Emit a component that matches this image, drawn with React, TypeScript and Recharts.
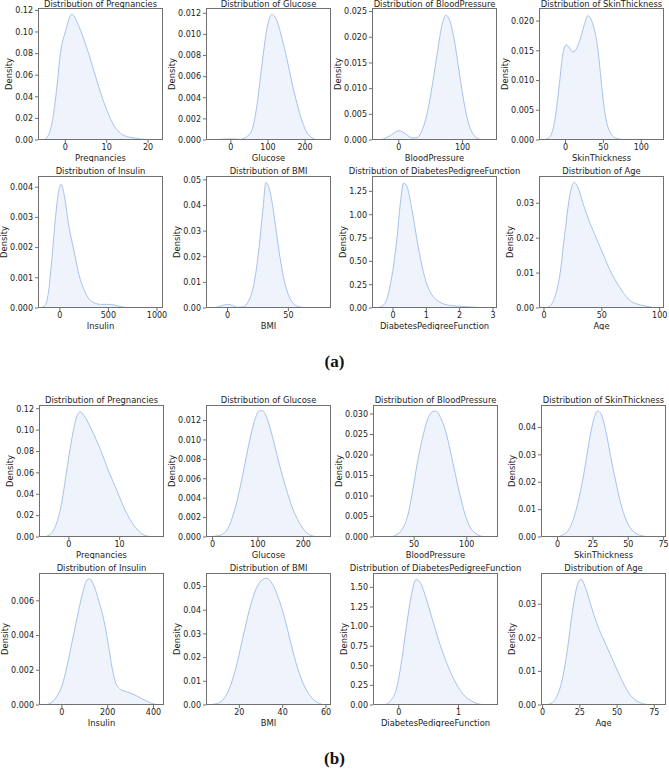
import { AreaChart, Area, XAxis, YAxis } from 'recharts';

const FONT = '"DejaVu Sans", sans-serif';
const LINE = '#a6c2ee';
const FRAME = '#707070';
const INK = '#222';

// ---- panel (a): raw data, estimated KDE curves [x, density]
const pregnanciesA = [[-5.3, 0], [-4, 0.005], [-3.2, 0.016], [-2, 0.05], [-1.2, 0.08], [0, 0.1], [1.6, 0.1165], [3.3, 0.105], [5.3, 0.084], [6.9, 0.064], [8.5, 0.044], [10.2, 0.026], [11.8, 0.013], [13.4, 0.006], [15, 0.003], [16.7, 0.0018], [18.5, 0.0008], [20, 0.0004], [21.5, 0]];
const glucoseA = [[-47, 0], [-30, 0.00005], [-12, 0.0001], [6, 0.0001], [24, 0.00006], [42, 0.0003], [56, 0.00085], [70, 0.0032], [83.5, 0.007], [97, 0.0105], [110.5, 0.0119], [124, 0.0113], [138, 0.0096], [151, 0.0077], [165, 0.0054], [178, 0.0035], [192, 0.0018], [205, 0.0007], [219, 0.0002], [232, 0]];
const bloodPressureA = [[-34, 0], [-24, 0.0002], [-13, 0.0009], [0, 0.0018], [10.5, 0.0012], [21, 0.0004], [29, 0.0005], [37, 0.002], [45, 0.0055], [53, 0.011], [60.5, 0.017], [68, 0.0225], [74, 0.0243], [79, 0.0235], [87, 0.0195], [95, 0.013], [103, 0.0068], [110.5, 0.0028], [118, 0.0009], [129, 0.0001], [139.5, 0]];
const skinThicknessA = [[-30, 0], [-21, 0.0005], [-14.5, 0.003], [-8, 0.0095], [-3.5, 0.0145], [1, 0.016], [5, 0.0155], [10, 0.0148], [15, 0.0155], [20, 0.0172], [25, 0.0195], [29.5, 0.0209], [36, 0.0195], [43, 0.015], [47, 0.01], [51.5, 0.005], [58, 0.0015], [67, 0.0003], [76, 0.0001], [98, 0.0001], [111, 0.0001], [124, 0]];
const insulinA = [[-200, 0], [-149, 0.0001], [-114, 0.0006], [-80, 0.0017], [-45, 0.003], [-10, 0.0039], [14, 0.0041], [41, 0.0038], [93, 0.0027], [145, 0.0019], [197, 0.0011], [250, 0.0006], [300, 0.0003], [350, 0.00018], [420, 0.00012], [500, 0.00012], [560, 0.0001], [620, 0.00005], [700, 0.00001], [760, 0]];
const bmiA = [[-15, 0], [-9, 0.0003], [-4, 0.001], [0, 0.0014], [4, 0.001], [8, 0.0003], [13, 0.0005], [17, 0.0025], [20, 0.006], [23, 0.013], [26, 0.024], [29, 0.038], [31.5, 0.049], [34, 0.047], [37, 0.04], [40, 0.03], [43, 0.02], [46, 0.012], [49, 0.0065], [52, 0.003], [56, 0.001], [62, 0.0002], [70, 0]];
const pedigreeA = [[-0.53, 0], [-0.33, 0.02], [-0.18, 0.1], [-0.03, 0.35], [0.12, 0.75], [0.22, 1.12], [0.32, 1.34], [0.42, 1.3], [0.57, 1.05], [0.72, 0.73], [0.87, 0.45], [1.02, 0.25], [1.17, 0.14], [1.37, 0.07], [1.67, 0.03], [1.97, 0.02], [2.27, 0.012], [2.57, 0.006], [2.87, 0.002], [3.07, 0]];
const ageA = [[0.6, 0], [4.9, 0.0005], [9.2, 0.003], [13.5, 0.009], [17.9, 0.021], [22.2, 0.032], [26, 0.036], [29.4, 0.0345], [33.7, 0.03], [39.5, 0.0245], [45.2, 0.02], [51, 0.0155], [56.8, 0.011], [62.5, 0.0075], [68.3, 0.0045], [74, 0.0022], [80, 0.0012], [85.6, 0.0007], [91.4, 0.0003], [97, 0]];

// ---- panel (b): cleaned data
const pregnanciesB = [[-5.1, 0], [-3.8, 0.002], [-2.5, 0.012], [-1.5, 0.03], [-0.5, 0.06], [0.5, 0.09], [1.5, 0.112], [2.2, 0.117], [3.2, 0.112], [4.5, 0.1], [6.2, 0.082], [7.8, 0.062], [9.5, 0.043], [11.1, 0.025], [12.8, 0.011], [14.1, 0.004], [15.8, 0.0005], [16.8, 0]];
const glucoseB = [[-15, 0], [7, 0.0001], [22, 0.0003], [37, 0.0012], [51, 0.0032], [66, 0.0063], [81, 0.0098], [92, 0.0119], [103, 0.013], [110, 0.013], [121, 0.0121], [132, 0.0103], [147, 0.0075], [162, 0.005], [176, 0.003], [191, 0.0015], [206, 0.0005], [221, 0.0001], [235, 0]];
const bloodPressureB = [[26.6, 0], [32.8, 0.0005], [39, 0.002], [43.7, 0.005], [48.4, 0.011], [53, 0.018], [57.8, 0.024], [62.5, 0.0285], [67, 0.0305], [70.3, 0.0307], [75, 0.0292], [79.7, 0.026], [84.4, 0.021], [89, 0.0155], [93.8, 0.01], [98.4, 0.0055], [103, 0.0025], [107.8, 0.001], [114, 0.0002], [120, 0]];
const skinThicknessB = [[-1.2, 0], [3.5, 0.0007], [8.3, 0.003], [11.8, 0.0075], [15.3, 0.0145], [18.9, 0.024], [22.4, 0.035], [25.9, 0.0435], [28.3, 0.046], [30.7, 0.045], [34.2, 0.0385], [37.7, 0.029], [41.3, 0.02], [44.8, 0.012], [48.3, 0.0065], [51.9, 0.003], [56.6, 0.001], [62.5, 0.0002], [67.2, 0]];
const insulinB = [[-80, 0], [-51, 0.0001], [-22, 0.0005], [0, 0.0011], [22, 0.0022], [44, 0.0036], [66, 0.005], [88, 0.0063], [110, 0.0072], [122, 0.00726], [139, 0.0069], [161, 0.006], [183, 0.0049], [205, 0.0033], [220, 0.0021], [234, 0.0013], [256, 0.0009], [286, 0.00075], [315, 0.0006], [344, 0.0004], [374, 0.0002], [403, 0.00005], [432, 0]];
const bmiB = [[4.6, 0], [9.2, 0.0005], [12.3, 0.002], [15.4, 0.007], [18.5, 0.016], [21.5, 0.028], [24.6, 0.04], [27.7, 0.049], [30.8, 0.053], [32.3, 0.0535], [34.6, 0.052], [37.7, 0.046], [40.8, 0.037], [43.8, 0.026], [46.9, 0.0155], [50, 0.008], [53, 0.0035], [56.2, 0.001], [59.2, 0]];
const pedigreeB = [[-0.32, 0], [-0.21, 0.01], [-0.13, 0.06], [-0.04, 0.2], [0.04, 0.52], [0.12, 0.95], [0.2, 1.35], [0.29, 1.6], [0.37, 1.55], [0.45, 1.38], [0.56, 1.1], [0.67, 0.82], [0.78, 0.58], [0.89, 0.38], [1.0, 0.22], [1.11, 0.11], [1.22, 0.05], [1.36, 0.01], [1.49, 0]];
const ageB = [[1.1, 0], [5.6, 0.0005], [10, 0.003], [13.4, 0.008], [16.8, 0.017], [20.1, 0.028], [23.5, 0.036], [25.7, 0.0375], [29.1, 0.0345], [33.6, 0.028], [38, 0.0225], [42.5, 0.018], [47, 0.0135], [51.5, 0.009], [56, 0.005], [60.4, 0.0022], [64.9, 0.0008], [69.4, 0.0002], [73.8, 0]];

// ---- tick values
const yPreg = [0, 0.02, 0.04, 0.06, 0.08, 0.1, 0.12];
const yGluc = [0, 0.002, 0.004, 0.006, 0.008, 0.01, 0.012];
const yBpA = [0, 0.005, 0.01, 0.015, 0.02, 0.025];
const ySkinA = [0, 0.005, 0.01, 0.015, 0.02];
const yInsA = [0, 0.001, 0.002, 0.003, 0.004];
const yBmi = [0, 0.01, 0.02, 0.03, 0.04, 0.05];
const yDpfA = [0, 0.25, 0.5, 0.75, 1.0, 1.25];
const yAge = [0, 0.01, 0.02, 0.03];
const yBpB = [0, 0.005, 0.01, 0.015, 0.02, 0.025, 0.03];
const ySkinB = [0, 0.01, 0.02, 0.03, 0.04];
const yInsB = [0, 0.002, 0.004, 0.006];
const yDpfB = [0, 0.25, 0.5, 0.75, 1.0, 1.25, 1.5];

const colA = [38, 206, 372, 539];
const colB = [39, 206, 373, 541];
const rows = [8, 176, 405, 573];
const W = 125;
const H = 132;

const plots = [
  { title: 'Pregnancies', pts: pregnanciesA, xd: [-6.6, 23.6], xt: [0, 10, 20], ym: 0.1222, yt: yPreg, dg: 2, l: colA[0], t: rows[0] },
  { title: 'Glucose', pts: glucoseA, xd: [-67, 270], xt: [0, 100, 200], ym: 0.0125, yt: yGluc, dg: 3, l: colA[1], t: rows[0] },
  { title: 'BloodPressure', pts: bloodPressureA, xd: [-42, 154], xt: [0, 100], ym: 0.0257, yt: yBpA, dg: 3, l: colA[2], t: rows[0] },
  { title: 'SkinThickness', pts: skinThicknessA, xd: [-35, 130], xt: [0, 50, 100], ym: 0.0222, yt: ySkinA, dg: 3, l: colA[3], t: rows[0] },
  { title: 'Insulin', pts: insulinA, xd: [-225, 1062], xt: [0, 500, 1000], ym: 0.00437, yt: yInsA, dg: 3, l: colA[0], t: rows[1] },
  { title: 'BMI', pts: bmiA, xd: [-17.7, 85], xt: [0, 50], ym: 0.0515, yt: yBmi, dg: 2, l: colA[1], t: rows[1] },
  { title: 'DiabetesPedigreeFunction', pts: pedigreeA, xd: [-0.63, 3.12], xt: [0, 1, 2, 3], ym: 1.415, yt: yDpfA, dg: 2, l: colA[2], t: rows[1] },
  { title: 'Age', pts: ageA, xd: [-4.3, 103.7], xt: [0, 50, 100], ym: 0.0378, yt: yAge, dg: 2, l: colA[3], t: rows[1] },
  { title: 'Pregnancies', pts: pregnanciesB, xd: [-5.9, 18.75], xt: [0, 10], ym: 0.1235, yt: yPreg, dg: 2, l: colB[0], t: rows[2] },
  { title: 'Glucose', pts: glucoseB, xd: [-14.6, 261], xt: [0, 100, 200], ym: 0.0136, yt: yGluc, dg: 3, l: colB[1], t: rows[2] },
  { title: 'BloodPressure', pts: bloodPressureB, xd: [10.9, 129.7], xt: [50, 100], ym: 0.0322, yt: yBpB, dg: 3, l: colB[2], t: rows[2] },
  { title: 'SkinThickness', pts: skinThicknessB, xd: [-11.7, 76.7], xt: [0, 25, 50, 75], ym: 0.0482, yt: ySkinB, dg: 2, l: colB[3], t: rows[2] },
  { title: 'Insulin', pts: insulinB, xd: [-100, 446], xt: [0, 200, 400], ym: 0.0076, yt: yInsB, dg: 3, l: colB[0], t: rows[3] },
  { title: 'BMI', pts: bmiB, xd: [4.6, 62.3], xt: [20, 40, 60], ym: 0.0557, yt: yBmi, dg: 2, l: colB[1], t: rows[3] },
  { title: 'DiabetesPedigreeFunction', pts: pedigreeB, xd: [-0.43, 1.66], xt: [0, 1], ym: 1.683, yt: yDpfB, dg: 2, l: colB[2], t: rows[3] },
  { title: 'Age', pts: ageB, xd: [-1.1, 82.9], xt: [0, 25, 50, 75], ym: 0.0393, yt: yAge, dg: 2, l: colB[3], t: rows[3] },
];

const tickStyle = { fontSize: 8, fontFamily: FONT, fill: INK };
const labelStyle = { fontSize: 8.4, fontFamily: FONT, fill: INK };

function Kde({ p }: { p: any }) {
  const data = p.pts.map(([x, y]: number[]) => ({ x, y }));
  // width of the widest y tick label at 8px DejaVu Sans
  const labelW = ((p.dg + 1) * 0.636 + 0.318) * 8;
  const dd = Math.round(labelW + 11);
  const yw = dd * 2;
  const xh = 22;
  const padTop = 6;
  const padRight = 14;
  return (
    <>
      <div
        style={{
          position: 'absolute', left: p.l + W / 2, top: Math.max(0, p.t - 9), transform: 'translateX(-50%)',
          font: `8.4px ${FONT}`, lineHeight: '8px', color: INK, whiteSpace: 'nowrap',
        }}
      >
        Distribution of {p.title}
      </div>
      <div style={{ position: 'absolute', left: p.l - yw, top: p.t - padTop }}>
        <AreaChart
          width={yw + W + padRight} height={H + xh + padTop} data={data}
          margin={{ top: padTop, right: padRight, bottom: 0, left: 0 }}
        >
          <XAxis
            type="number" dataKey="x" domain={p.xd} ticks={p.xt} allowDataOverflow interval={0}
            axisLine={false} tickSize={3} tickMargin={1} tickLine={{ stroke: FRAME }} tick={tickStyle} height={xh}
            label={{ value: p.title, position: 'insideBottom', offset: 1, style: labelStyle }}
          />
          <YAxis
            type="number" domain={[0, p.ym]} ticks={p.yt} allowDataOverflow interval={0}
            axisLine={false} tickSize={3} tickMargin={2} tickLine={{ stroke: FRAME }} tick={tickStyle} width={yw}
            tickFormatter={(v: number) => v.toFixed(p.dg)}
            label={{ value: 'Density', angle: -90, position: 'center', style: labelStyle }}
          />
          <Area
            type="monotone" dataKey="y" stroke={LINE} strokeWidth={1} fill={LINE} fillOpacity={0.18}
            dot={false} activeDot={false} isAnimationActive={false}
          />
        </AreaChart>
      </div>
      <div
        style={{
          position: 'absolute', left: p.l, top: p.t, width: W, height: H,
          border: `1px solid ${FRAME}`, boxSizing: 'border-box', pointerEvents: 'none',
        }}
      />
    </>
  );
}

const panelLabel = {
  position: 'absolute' as const, left: 0, width: 669, textAlign: 'center' as const,
  font: `bold 17px "Liberation Serif", "Times New Roman", serif`, color: '#111',
};

export default function App() {
  return (
    <div style={{ position: 'absolute', left: 0, top: 0, width: 669, height: 770, background: '#fff', overflow: 'hidden' }}>
      {plots.map((p, i) => (
        <Kde key={i} p={p} />
      ))}
      <div style={{ ...panelLabel, top: 352 }}>(a)</div>
      <div style={{ ...panelLabel, top: 749 }}>(b)</div>
    </div>
  );
}
